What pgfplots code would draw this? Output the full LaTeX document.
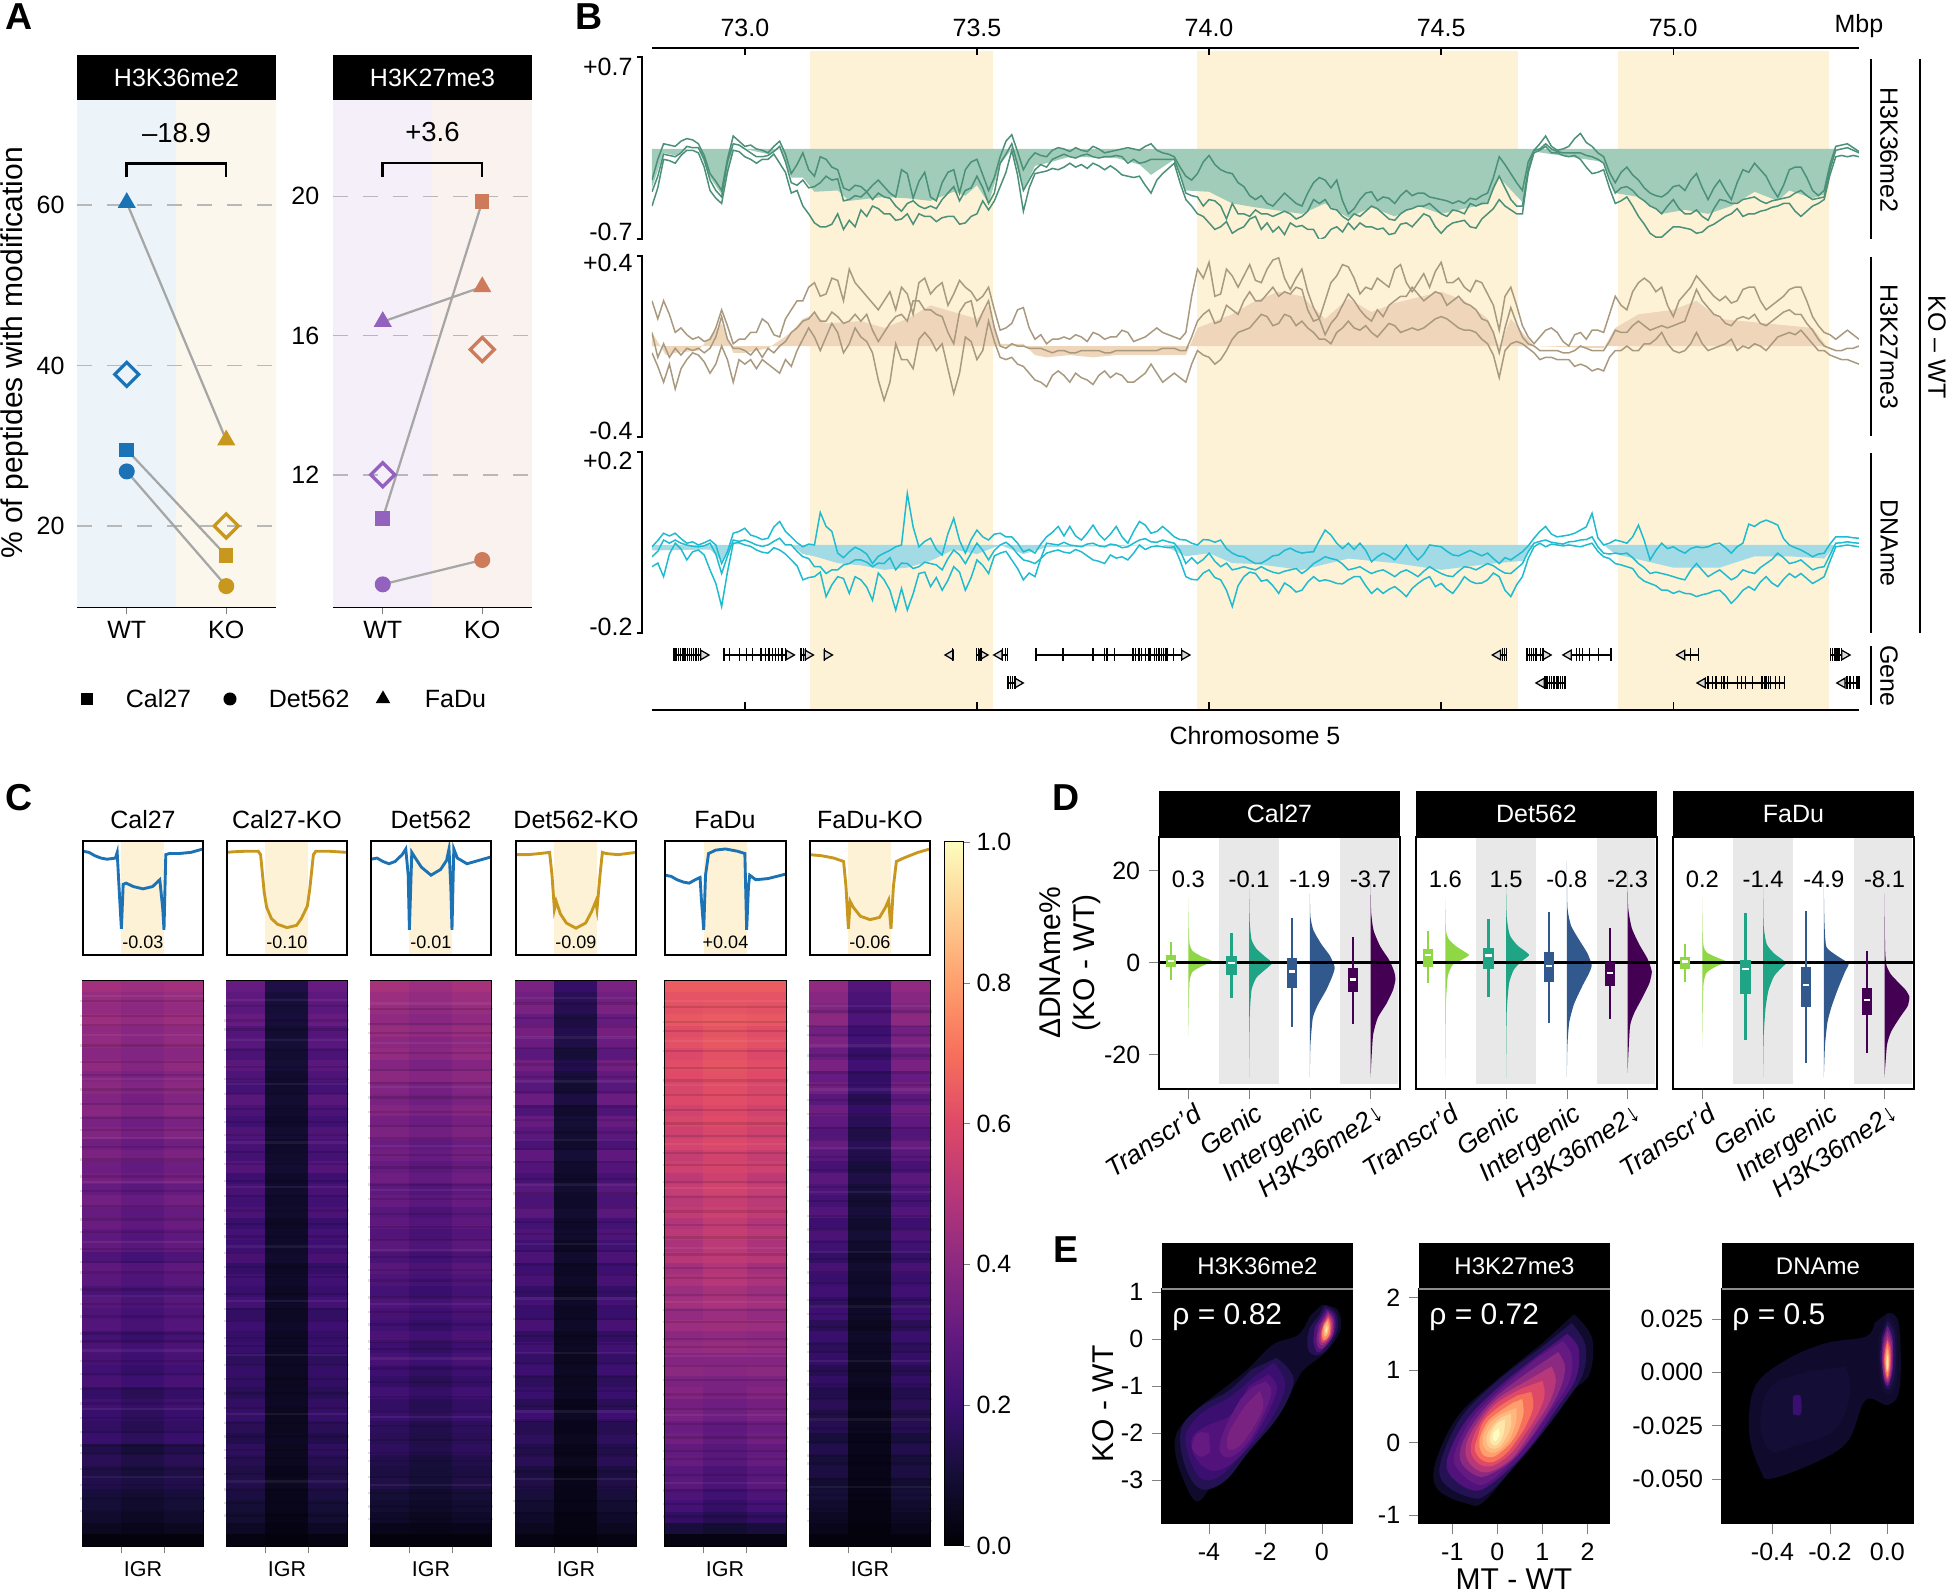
\documentclass[border=0pt]{standalone}
\usepackage{fontspec}
\setmainfont{Liberation Sans}
\usepackage{pgfplots}
\usepackage{pgfplotstable}
\pgfplotsset{compat=1.18}

% magma steps
\definecolor{m07}{HTML}{100B2D}\definecolor{m10}{HTML}{140E36}\definecolor{m15}{HTML}{251255}
\definecolor{m20}{HTML}{3B0F70}\definecolor{m25}{HTML}{51127C}\definecolor{m30}{HTML}{641A80}
\definecolor{m35}{HTML}{792282}\definecolor{m40}{HTML}{8C2981}\definecolor{m45}{HTML}{A1307E}
\definecolor{m50}{HTML}{B73779}\definecolor{m55}{HTML}{CD4071}\definecolor{m60}{HTML}{DE4968}
\definecolor{m65}{HTML}{F0605D}\definecolor{m70}{HTML}{F7705C}\definecolor{m75}{HTML}{FC8961}
\definecolor{m80}{HTML}{FE9F6D}\definecolor{m85}{HTML}{FEB77E}\definecolor{m90}{HTML}{FECF92}
\definecolor{m95}{HTML}{FDE7A9}\definecolor{m100}{HTML}{FCFDBF}
\definecolor{yel}{HTML}{FDF2D6}
\definecolor{ablue}{HTML}{1B72B5}\definecolor{agold}{HTML}{C8981E}
\definecolor{apurp}{HTML}{9362BE}\definecolor{arust}{HTML}{CE7B5C}
\definecolor{gline}{HTML}{4B9079}\definecolor{gfill}{HTML}{A0CCB9}
\definecolor{tline}{HTML}{A9997F}\definecolor{tfill}{HTML}{EFD6BA}
\definecolor{cline}{HTML}{1FBBCF}\definecolor{cfill}{HTML}{A2DBE6}
\definecolor{v1}{HTML}{8FD744}\definecolor{v2}{HTML}{20A486}\definecolor{v3}{HTML}{31598D}\definecolor{v4}{HTML}{440154}

\pgfplotsset{
  colormap={magma}{HTML=(000004) HTML=(140E36) HTML=(3B0F70) HTML=(641A80) HTML=(8C2981)
    HTML=(B73779) HTML=(DE4968) HTML=(F7705C) HTML=(FE9F6D) HTML=(FECF92) HTML=(FCFDBF)},
  pxbox/.code n args={4}{%
    \pgfmathsetlengthmacro\pxX{#1*0.4pt}\pgfmathsetlengthmacro\pxY{-#4*0.4pt}%
    \pgfmathsetlengthmacro\pxW{(#3-#1)*0.4pt}\pgfmathsetlengthmacro\pxH{(#4-#2)*0.4pt}%
    \edef\pxT{\noexpand\pgfplotsset{at={(\pxX,\pxY)},anchor=south west,scale only axis,width=\pxW,height=\pxH}}\pxT},
  every tick label/.append style={font=\fontsize{10}{12}\selectfont},
}
\pgfdeclareplotmark{cellF}{\pgfpathrectangle{\pgfqpoint{-7.9pt}{-2.45pt}}{\pgfqpoint{15.8pt}{4.9pt}}\pgfusepathqfill}
\pgfdeclareplotmark{cellC}{\pgfpathrectangle{\pgfqpoint{-8.7pt}{-2.45pt}}{\pgfqpoint{17.4pt}{4.9pt}}\pgfusepathqfill}
\pgfdeclareplotmark{streak}{\pgfpathrectangle{\pgfqpoint{-25pt}{-0.45pt}}{\pgfqpoint{50pt}{0.9pt}}\pgfusepathqfill}

% genome tracks
\pgfplotstableread{
x a1 a2 a3 b1 b2 b3 c1 c2 c3
72.8000 -24 -44 -33 20 -3 6 -4 -48 -26
72.8125 -8 -30 -21 12 -9 -5 10 -40 -14
72.8250 4 -8 -4 20 -16 1 26 -70 11
72.8375 3 -9 -5 14 -8 -5 20 -20 4
72.8500 2 -11 -6 6 -19 -1 26 4 11
72.8625 6 -5 -3 8 -10 -4 14 -9 4
72.8750 8 -1 2 5 -6 -1 4 -33 0
72.8875 7 -1 1 3 -3 -2 7 -15 -3
72.9000 4 -3 1 4 -4 -1 0 -11 -4
72.9125 -5 -14 -8 2 -7 -3 5 -22 -2
72.9250 -19 -32 -24 3 -12 -1 11 -55 4
72.9375 -25 -38 -32 8 -8 4 0 -85 -20
72.9500 -32 -42 -37 16 0 13 -41 -136 -63
72.9625 -8 -18 -10 9 -6 3 -15 -60 -25
72.9750 10 -1 4 1 -16 -1 26 4 11
72.9875 6 -2 3 3 -6 -1 30 5 8
73.0000 2 -6 0 3 -8 -2 37 0 11
73.0125 3 -8 -3 6 -6 -4 22 -3 6
73.0250 0 -11 -6 6 -10 -1 18 -11 0
73.0375 -1 -8 -6 12 -6 -5 12 -16 -3
73.0500 -3 -8 -5 10 -8 -1 15 -18 0
73.0625 2 -4 -2 5 -10 -3 40 -6 8
73.0750 6 -11 2 4 -12 0 52 -11 15
73.0875 -4 -18 -10 12 -6 2 30 -20 0
73.1000 -19 -34 -26 16 -9 6 18 -33 0
73.1125 -12 -32 -28 20 -2 8 5 -46 -14
73.1250 -3 -44 -24 20 3 11 -4 -77 -26
73.1375 -16 -50 -30 26 8 12 2 -72 -30
73.1500 -21 -57 -29 28 4 15 0 -70 -48
73.1625 -6 -60 -26 22 -2 11 72 -60 -48
73.1750 -8 -60 -21 23 4 11 41 -114 -63
73.1875 -14 -58 -24 30 10 15 30 -88 -55
73.2000 -16 -50 -23 29 6 13 -18 -70 -55
73.2125 -30 -62 -40 20 -3 10 -28 -74 -44
73.2250 -32 -55 -39 34 1 11 -15 -107 -41
73.2375 -28 -60 -36 28 8 14 -5 -70 -33
73.2500 -29 -47 -37 25 4 11 -11 -77 -33
73.2625 -33 -52 -33 22 2 14 -20 -93 -38
73.2750 -28 -44 -39 19 -3 7 -41 -122 -48
73.2875 -24 -46 -34 16 -15 2 -25 -62 -40
73.3000 -29 -50 -37 20 -24 6 -18 -77 -41
73.3125 -34 -50 -38 24 -16 10 -12 -100 -28
73.3250 -37 -55 -44 16 1 13 -4 -144 -55
73.3375 -16 -54 -48 26 -6 14 0 -96 -40
73.3500 -19 -50 -42 23 -6 11 114 -144 -41
73.3625 -38 -58 -40 14 -10 20 40 -108 -52
73.3750 -25 -50 -44 28 3 20 -4 -63 -48
73.3875 -18 -52 -46 30 6 16 8 -60 -38
73.4000 -37 -52 -44 23 3 16 15 -92 -41
73.4125 -40 -56 -46 26 -2 14 -10 -72 -44
73.4250 -26 -53 -39 28 1 13 -22 -100 -55
73.4375 -18 -52 -34 18 -10 6 25 -78 -30
73.4500 -16 -52 -29 23 -21 1 59 -48 -11
73.4625 -34 -58 -40 29 -12 15 10 -60 -22
73.4750 -16 -57 -32 26 4 19 -18 -100 -41
73.4875 -10 -52 -30 24 2 20 12 -72 -18
73.5000 -8 -50 -21 20 -6 9 33 -33 4
73.5125 -20 -40 -30 22 -2 15 18 -45 -12
73.5250 -32 -47 -42 26 11 20 11 -63 -33
73.5375 -22 -40 -34 16 2 8 24 -24 -12
73.5500 -6 -29 -11 7 -5 0 26 -18 0
73.5625 6 -18 -4 8 -6 -1 18 -14 6
73.5750 11 -1 4 10 -5 1 18 -33 -4
73.5875 -2 -20 -12 16 -8 0 4 -52 -20
73.6000 -16 -48 -32 17 -9 0 -15 -77 -33
73.6125 -8 -30 -24 8 -12 -1 -10 -62 -36
73.6250 -3 -19 -16 3 -15 -1 -18 -70 -41
73.6375 -5 -18 -12 5 -16 -1 2 -30 -30
73.6500 -6 -17 -14 1 -18 -2 18 -18 4
73.6625 -1 -15 -8 3 -13 -3 28 -14 2
73.6750 1 -16 -6 3 -11 -2 41 -11 0
73.6875 0 -14 -4 4 -13 -2 20 -16 6
73.7000 -2 -11 -6 3 -16 -3 41 -18 0
73.7125 1 -14 -7 5 -12 -3 20 -10 -2
73.7250 -1 -12 -5 4 -14 -2 11 -15 -4
73.7375 -2 -15 -4 2 -15 -2 26 -24 2
73.7500 2 -11 -6 6 -17 -2 44 -33 4
73.7625 0 -13 -7 5 -13 -2 24 -36 -2
73.7750 -3 -16 -6 3 -11 -3 11 -41 -4
73.7875 -2 -13 -6 4 -14 -3 24 -22 2
73.8000 -1 -16 -5 4 -12 -2 41 -29 0
73.8125 0 -20 -6 7 -13 -2 18 -26 -6
73.8250 1 -21 -11 6 -16 -2 4 -33 -4
73.8375 0 -22 -8 2 -16 -2 30 -18 4
73.8500 -1 -21 -11 3 -14 -2 52 0 11
73.8625 2 -28 -10 4 -12 -2 44 -10 14
73.8750 4 -34 -8 6 -8 -2 26 -4 7
73.8875 -1 -24 -8 8 -12 -2 30 -2 6
73.9000 -3 -19 -8 6 -16 -1 41 -4 11
73.9125 -4 -15 -8 5 -14 -1 30 -6 7
73.9250 -6 -11 -8 4 -12 -1 18 -4 4
73.9375 -14 -26 -20 3 -14 -2 12 -34 -12
73.9500 -21 -39 -34 6 -16 -2 11 -70 -41
73.9625 -24 -44 -36 22 -8 4 4 -76 -28
73.9750 -19 -50 -37 34 -2 11 0 -77 -41
73.9875 -10 -52 -44 30 -4 14 12 -62 -32
74.0000 -5 -57 -39 37 -5 16 11 -55 -18
74.0125 -12 -62 -40 22 -8 10 6 -72 -36
74.0250 -16 -60 -44 23 -6 11 11 -77 -48
74.0375 -18 -56 -54 34 -2 18 -8 -100 -40
74.0500 -19 -65 -42 31 3 16 -18 -136 -55
74.0625 -26 -62 -50 26 6 14 -24 -90 -52
74.0750 -29 -60 -50 31 7 20 -26 -70 -48
74.0875 -36 -54 -52 36 8 24 -34 -60 -52
74.1000 -39 -52 -47 29 11 20 -41 -63 -55
74.1125 -36 -62 -50 28 14 20 -40 -80 -48
74.1250 -42 -57 -50 34 13 23 -33 -77 -55
74.1375 -44 -64 -52 38 9 26 -24 -90 -60
74.1500 -39 -60 -50 39 10 22 -22 -107 -63
74.1625 -34 -66 -48 30 14 24 -12 -84 -58
74.1750 -38 -57 -50 25 13 23 -7 -92 -55
74.1875 -42 -60 -54 30 9 26 -14 -104 -52
74.2000 -44 -59 -52 34 11 25 -18 -100 -63
74.2125 -34 -62 -48 24 8 16 -16 -82 -54
74.2250 -26 -62 -39 17 6 11 -15 -70 -41
74.2375 -22 -70 -42 12 3 12 10 -80 -34
74.2500 -24 -68 -39 20 3 5 33 -77 -26
74.2625 -30 -62 -46 28 1 10 22 -80 -30
74.2750 -24 -60 -47 31 6 13 4 -85 -33
74.2875 -40 -64 -52 36 8 18 -8 -86 -42
74.3000 -50 -57 -55 35 11 23 4 -77 -55
74.3125 -46 -62 -50 30 8 20 -10 -70 -52
74.3250 -39 -57 -52 23 7 16 4 -70 -48
74.3375 -34 -60 -48 26 9 13 -12 -90 -56
74.3500 -33 -60 -44 25 6 11 -37 -107 -63
74.3625 -40 -62 -46 30 4 16 -26 -96 -58
74.3750 -37 -61 -50 28 7 13 -18 -107 -55
74.3875 -38 -66 -54 26 10 18 -24 -98 -62
74.4000 -42 -65 -55 34 9 20 -33 -92 -70
74.4125 -36 -58 -50 36 6 22 -18 -102 -60
74.4250 -32 -57 -47 28 7 22 0 -114 -55
74.4375 -36 -60 -46 24 8 26 -20 -96 -62
74.4500 -34 -55 -44 28 7 23 -33 -85 -70
74.4625 -34 -50 -44 32 8 20 -20 -76 -58
74.4750 -37 -52 -42 26 10 22 0 -70 -48
74.4875 -38 -60 -46 33 12 24 -2 -92 -56
74.5000 -39 -65 -50 37 13 23 -4 -85 -63
74.5125 -40 -60 -52 28 12 18 -14 -98 -68
74.5250 -42 -57 -47 28 10 20 -22 -107 -70
74.5375 -40 -56 -48 30 8 22 -24 -90 -58
74.5500 -42 -55 -50 26 7 19 -18 -70 -48
74.5625 -38 -60 -42 24 7 18 -12 -80 -50
74.5750 -39 -61 -44 29 6 16 -18 -85 -55
74.5875 -36 -54 -42 28 3 12 -24 -84 -48
74.6000 -34 -50 -42 23 1 11 -18 -77 -41
74.6125 -22 -46 -30 18 -4 6 -30 -62 -46
74.6250 -6 -39 -21 7 -14 -3 -41 -70 -55
74.6375 -12 -44 -30 22 -2 8 -28 -100 -62
74.6500 -19 -47 -39 26 1 17 -33 -114 -63
74.6625 -26 -50 -44 18 2 10 -24 -88 -52
74.6750 -32 -50 -44 9 1 4 -15 -70 -41
74.6875 -10 -18 -16 4 -1 1 -2 -30 -15
74.7000 -1 -3 -1 1 -3 0 15 -4 4
74.7125 4 -1 0 4 -6 -2 30 4 8
74.7250 10 2 4 7 -5 -2 41 -4 11
74.7375 2 -3 0 8 -5 -2 24 2 6
74.7500 -1 -3 -2 6 -6 -2 18 0 4
74.7625 0 -5 -3 2 -6 -3 20 -2 2
74.7750 2 -6 -3 0 -6 -3 22 0 7
74.7875 8 -5 -3 5 -9 -2 26 -2 8
74.8000 12 -8 -3 6 -8 0 33 -4 11
74.8125 5 -14 -5 3 -9 -1 40 0 12
74.8250 2 -19 -6 7 -11 -2 70 4 18
74.8375 -3 -18 -8 7 -10 -2 16 -14 -4
74.8500 -6 -16 -11 6 -11 -2 0 -26 -18
74.8625 -18 -30 -24 14 -5 2 4 -30 -20
74.8750 -26 -42 -34 22 -2 7 11 -41 -18
74.8875 -18 -40 -30 18 -2 6 8 -44 -20
74.9000 -14 -37 -29 16 0 6 4 -48 -18
74.9125 -20 -44 -32 24 -2 9 18 -52 -28
74.9250 -24 -52 -37 28 -2 11 44 -70 -41
74.9375 -30 -58 -40 30 1 9 10 -80 -50
74.9500 -34 -65 -44 28 1 7 -33 -85 -63
74.9625 -36 -68 -46 24 3 8 -12 -90 -60
74.9750 -37 -68 -50 26 6 9 4 -100 -63
74.9875 -34 -64 -44 18 1 8 -8 -100 -66
75.0000 -29 -60 -39 13 -2 9 -4 -107 -70
75.0125 -28 -60 -46 20 -3 10 -12 -102 -74
75.0250 -32 -61 -50 23 -2 11 -18 -107 -77
75.0375 -24 -62 -50 26 1 18 -8 -108 -56
75.0500 -19 -65 -47 31 6 25 -4 -114 -41
75.0625 -30 -64 -52 28 1 20 -6 -110 -56
75.0750 -39 -60 -55 25 -2 17 -4 -107 -70
75.0875 -30 -58 -46 22 -1 14 2 -102 -62
75.1000 -24 -55 -39 20 0 13 4 -100 -55
75.1125 -32 -52 -40 22 1 10 -6 -112 -66
75.1250 -39 -50 -42 19 3 9 -18 -129 -77
75.1375 -26 -46 -42 20 -2 12 -4 -116 -70
75.1500 -16 -52 -39 25 0 13 4 -100 -55
75.1625 -18 -50 -38 26 -1 12 46 -92 -60
75.1750 -11 -50 -37 26 1 14 41 -100 -63
75.1875 -16 -48 -40 20 0 10 50 -82 -50
75.2000 -21 -47 -42 16 -2 9 55 -70 -41
75.2125 -30 -45 -40 18 1 11 50 -84 -32
75.2250 -37 -44 -39 20 4 13 44 -92 -18
75.2375 -28 -42 -38 22 5 15 14 -76 -28
75.2500 -16 -42 -37 25 6 16 0 -63 -41
75.2625 -14 -48 -34 26 5 14 -6 -72 -38
75.2750 -14 -52 -32 26 7 14 -11 -63 -33
75.2875 -22 -48 -36 20 4 10 -18 -74 -44
75.3000 -32 -44 -39 13 1 7 -26 -85 -55
75.3125 -36 -42 -38 9 -2 3 -20 -78 -50
75.3250 -32 -39 -37 6 -2 0 -18 -70 -48
75.3375 -12 -20 -16 5 -4 -1 2 -36 -22
75.3500 2 -6 -1 3 -5 -2 18 -4 4
75.3625 3 -5 0 5 -6 -2 18 -2 5
75.3750 4 -6 1 7 -6 -1 18 0 7
75.3875 1 -5 -1 5 -7 -1 16 -2 5
75.4000 -2 -6 -3 3 -8 0 15 -4 4
}\tabB

% heat maps: flank and centre per sample, top row first
\pgfplotstableread{
aF aC bF bC cF cC dF dC eF eC fF fC
49 47 33 14 50 47 38 20 70 70 44 28
46 44 31 12 47 45 36 17 68 68 42 26
45 43 30 11 46 44 38 16 67 68 40 25
47 45 33 12 44 42 33 13 69 70 43 27
44 42 28 10 46 44 37 15 66 68 36 22
45 42 29 11 43 41 34 14 67 69 39 24
42 40 26 10 45 42 30 11 64 67 34 20
44 41 30 11 41 38 36 15 66 68 38 23
41 38 27 9 43 41 32 12 65 67 33 19
43 40 24 9 40 37 29 10 63 66 36 21
40 37 29 10 38 35 34 13 64 66 30 16
42 39 26 9 41 38 27 9 61 64 35 20
38 35 23 8 37 34 33 11 63 65 31 17
40 37 27 10 39 36 30 10 60 63 28 14
36 33 25 8 34 31 26 9 62 64 33 17
39 36 24 9 36 33 31 11 58 61 29 15
35 32 28 10 33 30 28 9 60 62 25 12
37 34 22 8 35 32 25 8 56 60 30 14
33 30 25 9 31 28 29 10 58 61 27 12
36 33 23 8 33 30 26 8 55 58 24 10
33 30 26 9 29 26 30 10 57 60 28 12
34 31 21 7 31 28 24 8 53 57 22 9
31 28 24 8 28 25 27 9 55 58 26 11
32 29 22 8 30 27 23 7 51 55 23 9
27 24 25 9 26 23 26 9 54 56 20 8
31 28 20 7 29 26 22 7 49 53 25 10
30 27 23 8 27 24 25 8 51 54 21 8
26 24 21 7 24 21 20 6 47 50 23 9
29 26 24 8 27 24 24 8 49 51 19 7
27 24 19 7 25 22 21 7 45 47 22 8
28 25 22 8 23 20 25 8 47 48 17 6
24 21 20 7 26 23 19 6 43 44 21 8
26 23 21 7 22 19 23 7 45 46 18 7
25 22 18 7 25 22 20 6 41 41 20 7
23 20 20 7 22 19 22 7 43 42 16 6
25 22 19 6 20 17 18 6 39 38 19 7
20 17 17 7 23 20 21 7 41 38 15 5
23 20 19 7 19 16 17 5 37 35 17 6
21 18 20 6 21 18 22 7 38 35 14 5
19 16 17 6 18 15 16 5 34 31 16 6
21 18 15 7 17 14 18 6 36 32 12 4
15 12 18 6 18 15 15 5 32 29 15 5
17 14 16 6 15 12 17 6 33 29 12 4
14 12 14 5 13 11 13 4 29 26 13 4
15 13 15 6 14 11 14 5 30 26 10 4
12 10 13 5 11 9 12 4 27 23 11 4
11 9 11 5 10 8 10 4 24 20 9 3
9 7 10 4 8 6 8 3 19 16 7 3
6 5 7 3 5 4 6 3 12 10 5 2
2 2 3 2 2 2 3 2 3 3 2 2
}\tabH

\newcommand{\stripbox}[6]{\fill[black] (#1,#2) rectangle (#3,#4);
  \node[white,font=\fontsize{#6}{12}\selectfont] at ({(#1+#3)/2},{(#2+#4)/2}) {#5};}

\newcommand{\prof}[5]{%
\begin{axis}[pxbox={#1}{841}{#2}{955},xmin=0,xmax=1,ymin=0,ymax=1,xtick=\empty,ytick=\empty,
  axis on top,axis line style={line width=.8pt}]
\addplot[fill=yel,draw=none] coordinates {(0.32,0)(0.675,0)(0.675,1)(0.32,1)};
\addplot[#3,line width=1.15pt] coordinates {#5};
\node[font=\fontsize{7.2}{8}\selectfont] at (axis cs:0.5,0.11) {#4};
\end{axis}}

\newcommand{\heat}[5]{%
\begin{axis}[pxbox={#1}{981}{#2}{1546},xmin=0,xmax=1,ymin=-0.5,ymax=49.5,y dir=reverse,
  xtick={0.32,0.675},xticklabels={},ytick=\empty,xtick pos=bottom,tick align=outside,
  major tick length=3pt,axis on top,axis line style={line width=.45pt},
  colormap name=magma,point meta min=0,point meta max=108]
\addplot[scatter,only marks,mark=cellF,scatter src=explicit] table[x expr=0.16,y expr=\coordindex,meta=#3]{\tabH};
\addplot[scatter,only marks,mark=cellF,scatter src=explicit] table[x expr=0.8375,y expr=\coordindex,meta=#3]{\tabH};
\addplot[scatter,only marks,mark=cellC,scatter src=explicit] table[x expr=0.4975,y expr=\coordindex,meta=#4]{\tabH};
\addplot[only marks,mark=streak,black,mark options={draw=none,fill=black,opacity=.12},y filter/.expression={y+#5}] coordinates {(.5,1.3)(.5,2.6)(.5,3.4)(.5,5.2)(.5,6.7)(.5,7.8)(.5,9.1)(.5,10.4)(.5,11.6)(.5,12.7)(.5,14.2)(.5,15.3)(.5,16.8)(.5,18.1)(.5,19.4)(.5,20.6)(.5,21.7)(.5,23.2)(.5,24.4)(.5,25.3)(.5,26.8)(.5,28.1)(.5,29.2)(.5,30.7)(.5,31.4)(.5,33.1)(.5,34.3)(.5,35.6)(.5,36.9)(.5,38.2)(.5,39.4)(.5,40.6)(.5,41.3)(.5,42.7)(.5,44.1)(.5,45.3)(.5,46.4)};
\addplot[only marks,mark=streak,white,mark options={draw=none,fill=white,opacity=.06},y filter/.expression={y+#5}] coordinates {(.5,0.8)(.5,4.3)(.5,8.2)(.5,13.4)(.5,17.3)(.5,22.6)(.5,27.4)(.5,32.2)(.5,37.4)(.5,43.4)};
\addplot[black,opacity=.25,line width=.5pt] coordinates {(0.32,-0.5)(0.32,49.5)};
\addplot[black,opacity=.25,line width=.5pt] coordinates {(0.675,-0.5)(0.675,49.5)};
\end{axis}}

\newcommand{\viol}[3]{\addplot[fill=#2,draw=none,smooth,tension=0.35,x filter/.expression={x+#1}] coordinates {#3};}
\newcommand{\bxp}[7]{%
  \addplot[#2,line width=.9pt,x filter/.expression={x+#1-0.29}] coordinates {(0,#3)(0,#4)};
  \addplot[#2,line width=4.2pt,x filter/.expression={x+#1-0.29}] coordinates {(0,#5)(0,#6)};
  \addplot[white,line width=1pt,x filter/.expression={x+#1-0.29}] coordinates {(-0.05,#7)(0.05,#7)};}
\newcommand{\bands}{%
  \addplot[fill=black!9,draw=none] coordinates {(0.5,-26.4)(1.5,-26.4)(1.5,27.3)(0.5,27.3)};
  \addplot[fill=black!9,draw=none] coordinates {(2.5,-26.4)(3.46,-26.4)(3.46,27.3)(2.5,27.3)};}
\newcommand{\zeroline}{\addplot[black,line width=1.1pt] coordinates {(-0.484,0)(3.485,0)};}
\newcommand{\dnums}[4]{%
  \node[font=\fontsize{9.5}{11}\selectfont] at (axis cs:0,18.1) {#1};
  \node[font=\fontsize{9.5}{11}\selectfont] at (axis cs:1,18.1) {#2};
  \node[font=\fontsize{9.5}{11}\selectfont] at (axis cs:2,18.1) {#3};
  \node[font=\fontsize{9.5}{11}\selectfont] at (axis cs:3,18.1) {#4};}
\pgfplotsset{
  dfacet/.style={xmin=-0.484,xmax=3.485,ymin=-27.5,ymax=27.3,axis on top,
    axis line style={line width=1pt},xtick={0,1,2,3},
    xticklabels={Transcr'd,Genic,Intergenic,H3K36me2↓},xtick pos=bottom,tick align=outside,
    major tick length=4pt,
    x tick label style={rotate=34,anchor=north east,inner sep=0pt,yshift=-2pt,xshift=1pt,font=\itshape\fontsize{10.5}{12}\selectfont}},
  efacet/.style={axis on top,axis background/.style={fill=black},tick align=outside,
    xtick pos=bottom,ytick pos=left,major tick length=4pt,axis line style={black,line width=.4pt}},
  stem/.style={only marks,mark=|,mark size=2.6pt,mark options={line width=.55pt},black},
  arrR/.style={only marks,mark=triangle*,mark size=2.2pt,mark options={rotate=-90,fill=black!15,draw=black,line width=.5pt}},
  arrL/.style={only marks,mark=triangle*,mark size=2.2pt,mark options={rotate=90,fill=black!15,draw=black,line width=.5pt}},
}
\newcommand{\lay}[2]{\addplot[fill=#1,draw=none,smooth,tension=0.6] coordinates {#2};}

\begin{document}
\begin{tikzpicture}
\useasboundingbox (0,0) rectangle (780pt,-636pt);

% ---------- A
\begin{axis}[pxbox={77}{100}{276}{607},xmin=-0.5,xmax=1.5,ymin=9.9,ymax=73.1,
  axis x line=bottom,axis y line=left,axis line style={-},x axis line style={line width=1pt},
  y axis line style={draw=none},xtick={0,1},xticklabels={WT,KO},ytick={20,40,60},yticklabels={20,40,60},
  ytick style={draw=none},tick align=outside,major tick length=3pt,
  yticklabel style={xshift=1.5pt},xticklabel style={yshift=1pt}]
\addplot[fill=ablue!8,draw=none] coordinates {(-0.5,9.9)(0.5,9.9)(0.5,73.1)(-0.5,73.1)};
\addplot[fill=agold!8,draw=none] coordinates {(0.5,9.9)(1.5,9.9)(1.5,73.1)(0.5,73.1)};
\addplot[black!28,line width=.7pt,dash pattern=on 6pt off 6pt] coordinates {(-0.5,60)(1.5,60)};
\addplot[black!28,line width=.7pt,dash pattern=on 6pt off 6pt] coordinates {(-0.5,40)(1.5,40)};
\addplot[black!28,line width=.7pt,dash pattern=on 6pt off 6pt] coordinates {(-0.5,20)(1.5,20)};
\addplot[black!35,line width=.9pt] coordinates {(0,60.3)(1,30.7)};
\addplot[black!35,line width=.9pt] coordinates {(0,29.5)(1,16.3)};
\addplot[black!35,line width=.9pt] coordinates {(0,26.8)(1,12.5)};
\addplot[only marks,mark=triangle*,mark size=3.8pt,ablue] coordinates {(0,60.3)};
\addplot[only marks,mark=square*,mark size=2.7pt,ablue] coordinates {(0,29.5)};
\addplot[only marks,mark=*,mark size=3pt,ablue] coordinates {(0,26.8)};
\addplot[only marks,mark=square,mark size=3.4pt,mark options={rotate=45,line width=1.3pt,draw=ablue,fill=none}] coordinates {(0,38.9)};
\addplot[only marks,mark=triangle*,mark size=3.8pt,agold] coordinates {(1,30.7)};
\addplot[only marks,mark=square*,mark size=2.7pt,agold] coordinates {(1,16.3)};
\addplot[only marks,mark=*,mark size=3pt,agold] coordinates {(1,12.5)};
\addplot[only marks,mark=square,mark size=3.4pt,mark options={rotate=45,line width=1.3pt,draw=agold,fill=none}] coordinates {(1,20)};
\addplot[black,line width=1pt] coordinates {(0,63.5)(0,65.2)(1,65.2)(1,63.5)};
\node[font=\fontsize{11}{13}\selectfont] at (axis cs:0.5,69) {–18.9};
\end{axis}
\begin{axis}[pxbox={333}{100}{532}{607},xmin=-0.5,xmax=1.5,ymin=8.2,ymax=22.77,
  axis x line=bottom,axis y line=left,axis line style={-},x axis line style={line width=1pt},
  y axis line style={draw=none},xtick={0,1},xticklabels={WT,KO},ytick={12,16,20},yticklabels={12,16,20},
  ytick style={draw=none},tick align=outside,major tick length=3pt,
  yticklabel style={xshift=1pt},xticklabel style={yshift=1pt}]
\addplot[fill=apurp!10,draw=none] coordinates {(-0.5,8.2)(0.5,8.2)(0.5,22.77)(-0.5,22.77)};
\addplot[fill=arust!10,draw=none] coordinates {(0.5,8.2)(1.5,8.2)(1.5,22.77)(0.5,22.77)};
\addplot[black!28,line width=.7pt,dash pattern=on 6pt off 6pt] coordinates {(-0.5,20)(1.5,20)};
\addplot[black!28,line width=.7pt,dash pattern=on 6pt off 6pt] coordinates {(-0.5,16)(1.5,16)};
\addplot[black!28,line width=.7pt,dash pattern=on 6pt off 6pt] coordinates {(-0.5,12)(1.5,12)};
\addplot[black!35,line width=.9pt] coordinates {(0,16.4)(1,17.4)};
\addplot[black!35,line width=.9pt] coordinates {(0,10.75)(1,19.85)};
\addplot[black!35,line width=.9pt] coordinates {(0,8.85)(1,9.55)};
\addplot[only marks,mark=triangle*,mark size=3.8pt,apurp] coordinates {(0,16.4)};
\addplot[only marks,mark=square*,mark size=2.7pt,apurp] coordinates {(0,10.75)};
\addplot[only marks,mark=*,mark size=3pt,apurp] coordinates {(0,8.85)};
\addplot[only marks,mark=square,mark size=3.4pt,mark options={rotate=45,line width=1.3pt,draw=apurp,fill=none}] coordinates {(0,12)};
\addplot[only marks,mark=triangle*,mark size=3.8pt,arust] coordinates {(1,17.4)};
\addplot[only marks,mark=square*,mark size=2.7pt,arust] coordinates {(1,19.85)};
\addplot[only marks,mark=*,mark size=3pt,arust] coordinates {(1,9.55)};
\addplot[only marks,mark=square,mark size=3.4pt,mark options={rotate=45,line width=1.3pt,draw=arust,fill=none}] coordinates {(1,15.6)};
\addplot[black,line width=1pt] coordinates {(0,20.56)(0,20.96)(1,20.96)(1,20.56)};
\node[font=\fontsize{11}{13}\selectfont] at (axis cs:0.5,21.85) {+3.6};
\end{axis}
% A legend
\begin{axis}[pxbox={60}{680}{500}{720},xmin=60,xmax=500,ymin=680,ymax=720,y dir=reverse,hide axis,clip=false]
\addplot[only marks,mark=square*,mark size=2.2pt,black] coordinates {(87,699)};
\addplot[only marks,mark=*,mark size=2.4pt,black] coordinates {(230,699)};
\addplot[only marks,mark=triangle*,mark size=3pt,black] coordinates {(383,699)};
\node[anchor=west] at (axis cs:117,699) {Cal27};
\node[anchor=west] at (axis cs:260,699) {Det562};
\node[anchor=west] at (axis cs:416,699) {FaDu};
\end{axis}

% ---------- B
\begin{axis}[pxbox={652}{48}{1859}{710},xmin=72.8,xmax=75.4,ymin=0,ymax=1,
  axis x line=bottom,axis y line=none,axis line style={-,line width=.8pt},axis on top,
  xtick={73,73.5,74,74.5,75},xticklabels={},tick align=inside,major tick length=3pt,
  tick style={black,line width=.6pt}]
\addplot[fill=yel,draw=none] coordinates {(73.14,0)(73.535,0)(73.535,0.995)(73.14,0.995)};
\addplot[fill=yel,draw=none] coordinates {(73.975,0)(74.665,0)(74.665,0.995)(73.975,0.995)};
\addplot[fill=yel,draw=none] coordinates {(74.88,0)(75.335,0)(75.335,0.995)(74.88,0.995)};
\end{axis}
\begin{axis}[pxbox={652}{48}{1859}{710},xmin=72.8,xmax=75.4,ymin=0,ymax=1,
  axis x line=top,axis y line=none,axis line style={-,line width=.8pt},
  xtick={73,73.5,74,74.5,75},xticklabels={73.0,73.5,74.0,74.5,75.0},tick align=inside,major tick length=3pt,
  tick style={black,line width=.6pt},xticklabel style={yshift=1pt}]
\end{axis}
\begin{axis}[pxbox={652}{57}{1859}{239},xmin=72.8,xmax=75.4,ymin=-69.4,ymax=70.9,hide axis]
\addplot[fill=gfill,draw=none] coordinates {(72.8,0)(72.8,-30)(72.825,-3)(72.85,-5)(72.875,0)(72.9,0)(72.925,-22)(72.95,-35)(72.975,0)(73,0)(73.05,-4)(73.075,0)(73.1,-22)(73.125,-22)(73.15,-33)(73.2,-32)(73.225,-40)(73.3,-37)(73.35,-38)(73.4,-40)(73.45,-33)(73.475,-36)(73.5,-28)(73.525,-42)(73.55,-12)(73.575,0)(73.6,-32)(73.625,-13)(73.65,-11)(73.7,-6)(73.8,-7)(73.85,-12)(73.875,-20)(73.925,-8)(73.95,-32)(74,-33)(74.05,-42)(74.1,-45)(74.2,-50)(74.25,-42)(74.3,-53)(74.35,-45)(74.4,-52)(74.45,-44)(74.5,-50)(74.6,-42)(74.625,-22)(74.675,-41)(74.7,-2)(74.85,-10)(74.875,-34)(74.925,-37)(74.975,-50)(75.025,-47)(75.075,-50)(75.125,-44)(75.175,-33)(75.225,-40)(75.25,-32)(75.3,-38)(75.325,-35)(75.35,0)};
\addplot[gline,line width=.6pt] table[x=x,y=a1]{\tabB};
\addplot[gline,line width=.6pt] table[x=x,y=a2]{\tabB};
\addplot[gline,line width=.6pt] table[x=x,y=a3]{\tabB};
\end{axis}
\begin{axis}[pxbox={652}{256}{1859}{437},xmin=72.8,xmax=75.4,ymin=-40.2,ymax=39.8,hide axis]
\addplot[fill=tfill,draw=none] coordinates {(72.8,0)(72.8,6)(72.83,-4)(72.85,-3)(72.9,-2)(72.95,10)(72.975,-3)(73,-3)(73.05,-1)(73.1,6)(73.125,12)(73.15,14)(73.175,10)(73.25,11)(73.3,8)(73.35,12)(73.4,18)(73.45,15)(73.5,12)(73.525,18)(73.55,1)(73.6,1)(73.625,-4)(73.65,-5)(73.7,-4)(73.75,-5)(73.8,-4)(73.85,-4)(73.95,-4)(73.975,8)(74,10)(74.05,14)(74.1,20)(74.15,24)(74.2,22)(74.25,12)(74.3,21)(74.35,15)(74.4,19)(74.5,24)(74.55,20)(74.6,12)(74.625,0)(74.65,12)(74.7,0)(74.85,-1)(74.875,8)(74.925,14)(75,16)(75.05,20)(75.1,12)(75.2,10)(75.3,8)(75.33,0)};
\addplot[tline,line width=.6pt] table[x=x,y=b1]{\tabB};
\addplot[tline,line width=.6pt] table[x=x,y=b2]{\tabB};
\addplot[tline,line width=.6pt] table[x=x,y=b3]{\tabB};
\end{axis}
\begin{axis}[pxbox={652}{452}{1859}{633},xmin=72.8,xmax=75.4,ymin=-194.5,ymax=205.6,hide axis]
\addplot[fill=cfill,draw=none] coordinates {(72.8,0)(72.8,-12)(72.925,-10)(72.95,-35)(72.975,0)(73.1,0)(73.125,-20)(73.15,-25)(73.2,-40)(73.25,-45)(73.3,-55)(73.35,-50)(73.4,-35)(73.45,-10)(73.5,-20)(73.55,0)(73.6,-20)(73.65,-5)(73.9,0)(73.95,-25)(74,-18)(74.05,-40)(74.1,-42)(74.2,-55)(74.3,-30)(74.4,-40)(74.5,-55)(74.6,-42)(74.675,-35)(74.7,0)(74.85,0)(74.875,-20)(75,-50)(75.1,-50)(75.175,-25)(75.25,-25)(75.325,-30)(75.35,0)};
\addplot[cline,line width=.6pt] table[x=x,y=c1]{\tabB};
\addplot[cline,line width=.6pt] table[x=x,y=c2]{\tabB};
\addplot[cline,line width=.6pt] table[x=x,y=c3]{\tabB};
\end{axis}
% genes: row 1 at 655, row 2 at 683
\begin{axis}[pxbox={652}{640}{1859}{700},xmin=72.8,xmax=75.4,ymin=640,ymax=700,y dir=reverse,hide axis,clip=false]
\addplot[black,line width=.45pt] coordinates {(72.847,655)(72.911,655)};
\addplot[black,line width=.45pt] coordinates {(72.955,655)(73.095,655)};
\addplot[black,line width=.45pt] coordinates {(73.121,655)(73.136,655)};
\addplot[black,line width=.45pt] coordinates {(73.443,655)(73.447,655)};
\addplot[black,line width=.45pt] coordinates {(73.499,655)(73.512,655)};
\addplot[black,line width=.45pt] coordinates {(73.548,655)(73.566,655)};
\addplot[black,line width=.45pt] coordinates {(73.627,655)(73.947,655)};
\addplot[black,line width=.45pt] coordinates {(74.622,655)(74.641,655)};
\addplot[black,line width=.45pt] coordinates {(74.685,655)(74.725,655)};
\addplot[black,line width=.45pt] coordinates {(74.774,655)(74.866,655)};
\addplot[black,line width=.45pt] coordinates {(75.019,655)(75.054,655)};
\addplot[black,line width=.45pt] coordinates {(75.338,655)(75.369,655)};
\addplot[black,line width=.45pt] coordinates {(74.716,683)(74.767,683)};
\addplot[black,line width=.45pt] coordinates {(75.063,683)(75.239,683)};
\addplot[black,line width=.45pt] coordinates {(75.364,683)(75.4,683)};
\addplot[black,line width=.45pt] coordinates {(73.567,683)(73.588,683)};
\addplot[arrR] coordinates {(72.911,655)(73.095,655)(73.136,655)(73.177,655)(73.512,655)(73.947,655)(74.725,655)(75.369,655)(73.588,683)};
\addplot[arrL] coordinates {(73.443,655)(73.548,655)(74.622,655)(74.774,655)(75.019,655)(74.716,683)(75.063,683)(75.364,683)};
\addplot[stem] coordinates {(72.847,655)(72.852,655)(72.857,655)(72.862,655)(72.867,655)(72.871,655)(72.876,655)(72.881,655)(72.885,655)(72.890,655)(72.895,655)(72.900,655)(72.905,655)
(72.955,655)(72.967,655)(72.989,655)(73.004,655)(73.017,655)(73.035,655)(73.044,655)(73.052,655)(73.059,655)(73.066,655)(73.073,655)(73.080,655)(73.088,655)
(73.121,655)(73.126,655)(73.131,655)(73.171,655)(73.447,655)(73.499,655)(73.504,655)(73.509,655)(73.555,655)(73.562,655)(73.566,655)
(73.627,655)(73.685,655)(73.750,655)(73.775,655)(73.780,655)(73.796,655)(73.836,655)(73.842,655)(73.849,655)(73.855,655)(73.863,655)(73.869,655)(73.873,655)(73.882,655)(73.887,655)(73.892,655)(73.897,655)(73.902,655)(73.907,655)(73.911,655)(73.923,655)(73.940,655)
(74.632,655)(74.637,655)(74.641,655)(74.685,655)(74.690,655)(74.695,655)(74.699,655)(74.704,655)(74.714,655)(74.719,655)
(74.791,655)(74.798,655)(74.805,655)(74.820,655)(74.839,655)(74.866,655)(75.037,655)(75.054,655)
(75.338,655)(75.343,655)(75.348,655)(75.353,655)(75.357,655)(75.362,655)};
\addplot[stem] coordinates {(73.567,683)(73.572,683)(73.577,683)(73.582,683)
(74.724,683)(74.728,683)(74.733,683)(74.738,683)(74.743,683)(74.748,683)(74.752,683)(74.757,683)(74.762,683)(74.767,683)
(75.075,683)(75.085,683)(75.092,683)(75.104,683)(75.109,683)(75.117,683)(75.138,683)(75.147,683)(75.155,683)(75.171,683)(75.191,683)(75.196,683)(75.200,683)(75.205,683)(75.210,683)(75.220,683)(75.229,683)(75.239,683)
(75.374,683)(75.381,683)(75.388,683)(75.396,683)(75.400,683)};
\end{axis}

% ---------- C
\prof{83}{203}{ablue}{-0.03}{(0,.91)(.05,.90)(.1,.87)(.15,.85)(.2,.84)(.27,.85)(.285,.90)(.3,.60)(.32,.23)(.335,.62)(.36,.63)(.42,.60)(.5,.58)(.58,.60)(.64,.66)(.665,.40)(.675,.22)(.69,.88)(.72,.89)(.8,.89)(.9,.90)(1,.93)}
\prof{227}{347}{agold}{-0.10}{(0,.90)(.05,.905)(.15,.91)(.26,.91)(.28,.88)(.31,.55)(.33,.42)(.37,.32)(.42,.27)(.5,.24)(.58,.26)(.62,.32)(.67,.43)(.69,.58)(.72,.88)(.74,.91)(.85,.91)(1,.90)}
\prof{371}{491}{ablue}{-0.01}{(0,.84)(.05,.85)(.1,.82)(.15,.80)(.2,.82)(.26,.88)(.29,.93)(.31,.70)(.32,.22)(.34,.90)(.37,.85)(.42,.77)(.5,.70)(.58,.75)(.63,.83)(.65,.93)(.665,.60)(.675,.22)(.69,.93)(.72,.85)(.8,.80)(.9,.83)(1,.86)}
\prof{516}{636}{agold}{-0.09}{(0,.88)(.1,.88)(.2,.89)(.28,.90)(.3,.70)(.32,.40)(.335,.47)(.37,.36)(.42,.28)(.5,.235)(.58,.28)(.63,.38)(.665,.47)(.675,.40)(.70,.70)(.72,.90)(.75,.89)(.85,.88)(1,.90)}
\prof{665}{786}{ablue}{+0.04}{(0,.70)(.05,.69)(.1,.66)(.15,.64)(.2,.63)(.25,.66)(.29,.68)(.3,.50)(.32,.22)(.335,.70)(.36,.89)(.42,.92)(.5,.93)(.6,.91)(.66,.89)(.675,.22)(.69,.60)(.7,.70)(.75,.66)(.85,.67)(1,.71)}
\prof{810}{930}{agold}{-0.06}{(0,.88)(.1,.87)(.2,.85)(.28,.82)(.3,.60)(.32,.23)(.335,.47)(.36,.42)(.42,.34)(.5,.31)(.58,.33)(.63,.42)(.655,.48)(.675,.23)(.695,.60)(.72,.82)(.78,.85)(.9,.90)(1,.93)}
\heat{83}{203}{aF}{aC}{0}
\heat{227}{347}{bF}{bC}{0.4}
\heat{371}{491}{cF}{cC}{0.7}
\heat{516}{636}{dF}{dC}{0.2}
\heat{665}{786}{eF}{eC}{0.5}
\heat{810}{930}{fF}{fC}{0.9}
\begin{axis}[pxbox={945}{842}{964}{1546},xmin=0,xmax=1,ymin=0,ymax=1,xtick=\empty,
  ytick={0,0.2,0.4,0.6,0.8,1},yticklabels={0.0,0.2,0.4,0.6,0.8,1.0},ytick pos=right,yticklabel pos=right,
  tick align=outside,major tick length=2.5pt,axis line style={line width=.4pt},axis on top,
  yticklabel style={xshift=-1pt},colormap name=magma,point meta min=0,point meta max=1]
\addplot[surf,shader=interp,point meta=y,mesh/cols=2] coordinates {(0,0)(1,0)(0,1)(1,1)};
\end{axis}

% ---------- D
\begin{axis}[dfacet,pxbox={1159}{837}{1400}{1089},ytick={-20,0,20},yticklabels={-20,0,20},ytick pos=left]
\bands
\viol{0}{v1}{(0,14)(.005,8)(.02,4)(.07,2.5)(.22,1.3)(.39,.3)(.22,-.8)(.07,-2)(.02,-4)(.006,-10)(0,-16)}
\viol{1}{v2}{(0,16)(.01,9)(.04,5)(.12,3)(.27,1.2)(.38,-.1)(.27,-1.5)(.12,-3.3)(.04,-6)(.01,-12)(0,-25)}
\viol{2}{v3}{(0,15)(.01,10)(.06,7)(.19,4)(.33,1.5)(.41,-1)(.37,-3)(.27,-6)(.14,-9)(.05,-12)(.01,-18)(0,-25)}
\viol{3}{v4}{(0,18)(.01,11)(.05,7)(.16,3.5)(.31,.5)(.39,-2)(.41,-3.7)(.37,-6)(.26,-9)(.12,-12)(.04,-16)(0,-25)}
\zeroline
\bxp{0}{v1}{-3.9}{4.4}{-1}{1.7}{.3}
\bxp{1}{v2}{-7.7}{6.5}{-2.7}{1.4}{-.1}
\bxp{2}{v3}{-14}{9.6}{-5.5}{.9}{-1.9}
\bxp{3}{v4}{-13.4}{5.6}{-6.5}{-1.2}{-3.7}
\dnums{0.3}{-0.1}{-1.9}{-3.7}
\end{axis}
\begin{axis}[dfacet,pxbox={1416}{837}{1657}{1089},ytick=\empty]
\bands
\viol{0}{v1}{(0,14)(.01,7)(.06,5)(.18,3.5)(.31,2.4)(.39,1.6)(.27,.6)(.12,-.5)(.04,-3)(.01,-9)(0,-25)}
\viol{1}{v2}{(0,18)(.01,10)(.06,6)(.18,3.8)(.31,2.5)(.38,1.6)(.27,.4)(.13,-1.5)(.05,-4.5)(.01,-11)(0,-25)}
\viol{2}{v3}{(0,22)(.01,12)(.07,8)(.2,5)(.34,2)(.41,-.6)(.36,-2.5)(.26,-5)(.12,-9)(.04,-13)(.01,-18)(0,-25)}
\viol{3}{v4}{(0,20)(.01,12)(.07,7.5)(.19,4)(.33,.8)(.40,-2)(.36,-4.5)(.25,-7.5)(.11,-11)(.04,-14)(0,-24)}
\zeroline
\bxp{0}{v1}{-4.5}{6.9}{-.9}{2.9}{1.6}
\bxp{1}{v2}{-7.4}{9.4}{-1.4}{3.2}{1.5}
\bxp{2}{v3}{-13.1}{10.9}{-4.3}{2.2}{-.8}
\bxp{3}{v4}{-12.3}{7.4}{-5.2}{.2}{-2.3}
\dnums{1.6}{1.5}{-0.8}{-2.3}
\end{axis}
\begin{axis}[dfacet,pxbox={1673}{837}{1914}{1089},ytick=\empty]
\bands
\viol{0}{v1}{(0,14)(.005,7)(.02,3.5)(.07,2.2)(.22,1.2)(.39,.2)(.22,-.9)(.07,-2.2)(.02,-4.5)(.006,-11)(0,-18)}
\viol{1}{v2}{(0,18)(.01,8)(.06,4)(.18,2)(.3,.8)(.38,-.1)(.3,-1.2)(.18,-3)(.09,-6)(.04,-10)(.01,-16)(0,-25)}
\viol{2}{v3}{(0,17)(.01,9)(.04,3.5)(.18,1.8)(.32,.6)(.41,-.3)(.35,-2)(.24,-5.5)(.13,-9.5)(.06,-13)(.02,-18)(0,-25)}
\viol{3}{v4}{(0,15)(.01,3)(.03,-.5)(.1,-2.5)(.24,-4.5)(.35,-6)(.41,-7.5)(.38,-9.5)(.25,-12)(.11,-15)(.04,-18)(0,-25)}
\zeroline
\bxp{0}{v1}{-4.2}{4}{-1.4}{1.1}{.2}
\bxp{1}{v2}{-16.9}{10.7}{-6.8}{.6}{-1.4}
\bxp{2}{v3}{-21.8}{11.3}{-9.7}{-.9}{-4.9}
\bxp{3}{v4}{-19.6}{2.5}{-11.5}{-5.5}{-8.1}
\dnums{0.2}{-1.4}{-4.9}{-8.1}
\end{axis}

% ---------- E
\begin{axis}[efacet,pxbox={1162}{1289}{1353}{1524},xmin=-5.66,xmax=1.1,ymin=-3.93,ymax=1.065,
  xtick={-4,-2,0},xticklabels={-4,-2,0},ytick={-3,-2,-1,0,1},yticklabels={-3,-2,-1,0,1}]
\lay{m07}{(0,.73)(.56,.62)(.66,.2)(.16,-.26)(-.64,-.65)(-.94,-.94)(-1.64,-1.65)(-2.84,-2.43)(-3.84,-3.07)(-4.34,-3.44)(-4.68,-3.28)(-5.14,-2.57)(-5.14,-2)(-4.44,-1.5)(-3.54,-1.08)(-2.64,-.65)(-1.74,-.12)(-.84,.09)(-.44,.48)}
\lay{m15}{(-1.6,-.4)(-1,-.85)(-1.5,-1.6)(-2.6,-2.4)(-3.4,-3)(-4.2,-3.2)(-4.7,-2.9)(-5,-2.3)(-4.9,-1.8)(-4.2,-1.4)(-3.3,-1.1)(-2.5,-.65)}
\lay{m20}{(-1.7,-.5)(-1.3,-1)(-1.9,-1.8)(-2.9,-2.5)(-3.7,-2.95)(-4.3,-2.95)(-4.7,-2.5)(-4.8,-2)(-4.2,-1.55)(-3.3,-1.25)(-2.4,-.8)}
\lay{m25}{(-1.9,-.75)(-1.6,-1.1)(-2.3,-2)(-3.1,-2.6)(-3.9,-2.8)(-4.5,-2.5)(-4.6,-2.1)(-4.1,-1.85)(-3.2,-1.6)(-2.6,-1)}
\lay{m30}{(-2,-.9)(-1.8,-1.2)(-2.5,-2.1)(-3.2,-2.5)(-3.6,-2.4)(-3.5,-2)(-2.9,-1.3)(-2.4,-1)}
\lay{m30}{(-4,-2)(-4.4,-2)(-4.6,-2.3)(-4.3,-2.5)(-3.95,-2.4)}
\lay{m35}{(-2.2,-1.1)(-2.1,-1.5)(-2.8,-2.2)(-3.3,-2.35)(-3.3,-2)(-2.7,-1.4)}
\lay{m15}{(.1,.72)(.5,.55)(.55,.2)(.2,-.2)(-.2,-.35)(-.5,-.2)(-.45,.2)(-.1,.5)}
\lay{m25}{(.15,.65)(.45,.5)(.45,.15)(.15,-.15)(-.15,-.28)(-.3,-.05)(-.25,.25)}
\lay{m35}{(.2,.6)(.42,.42)(.4,.1)(.12,-.15)(-.1,-.2)(-.2,0)(-.1,.3)}
\lay{m45}{(.22,.55)(.38,.4)(.35,.1)(.12,-.1)(-.05,-.12)(-.12,.05)(-.02,.32)}
\lay{m60}{(.22,.5)(.34,.35)(.3,.08)(.1,-.06)(-.02,-.05)(-.05,.1)(.05,.33)}
\lay{m75}{(.22,.44)(.3,.3)(.26,.08)(.1,-.02)(.02,.02)(0,.15)(.08,.32)}
\lay{m85}{(.2,.38)(.25,.25)(.2,.1)(.1,.05)(.06,.12)(.08,.27)}
\lay{m95}{(.18,.3)(.2,.2)(.14,.12)(.12,.2)}
\end{axis}
\begin{axis}[efacet,pxbox={1419}{1289}{1610}{1524},xmin=-1.74,xmax=2.5,ymin=-1.125,ymax=2.12,
  xtick={-1,0,1,2},xticklabels={-1,0,1,2},ytick={-1,0,1,2},yticklabels={-1,0,1,2}]
\lay{m07}{(1.7,1.77)(2.1,1.45)(2.05,.95)(1.63,.68)(.75,-.01)(-.25,-.79)(-.69,-.84)(-1.32,-.65)(-1.38,-.29)(-.88,.36)(0,.87)(1,1.37)}
\lay{m15}{(1.65,1.65)(1.95,1.35)(1.9,.95)(1.5,.55)(.7,-.1)(-.2,-.7)(-.65,-.75)(-1.2,-.55)(-1.25,-.25)(-.8,.35)(0,.85)(.95,1.3)}
\lay{m25}{(1.55,1.5)(1.8,1.3)(1.75,.9)(1.35,.5)(.6,-.15)(-.2,-.6)(-.6,-.65)(-1.05,-.45)(-1.1,-.2)(-.7,.3)(0,.75)(.9,1.2)}
\lay{m30}{(1.45,1.4)(1.65,1.2)(1.6,.85)(1.2,.45)(.5,-.15)(-.2,-.55)(-.55,-.55)(-.9,-.35)(-.95,-.15)(-.6,.3)(0,.7)(.85,1.15)}
\lay{m40}{(1.35,1.25)(1.5,1.05)(1.4,.75)(1.05,.35)(.4,-.2)(-.2,-.45)(-.5,-.45)(-.8,-.28)(-.8,-.05)(-.5,.3)(0,.65)(.75,1)}
\lay{m50}{(1.2,1.05)(1.3,.85)(1.15,.55)(.85,.25)(.35,-.2)(-.15,-.4)(-.45,-.38)(-.68,-.22)(-.68,0)(-.42,.3)(0,.6)(.65,.85)}
\lay{m60}{(1,.85)(1.05,.65)(.9,.4)(.65,.15)(.3,-.15)(-.1,-.32)(-.4,-.3)(-.58,-.15)(-.55,.05)(-.35,.3)(0,.55)(.55,.75)}
\lay{m70}{(.75,.7)(.8,.5)(.65,.25)(.45,.05)(.2,-.15)(-.1,-.27)(-.35,-.24)(-.5,-.1)(-.45,.05)(-.3,.3)(.05,.5)(.45,.65)}
\lay{m80}{(.55,.6)(.58,.4)(.45,.15)(.3,0)(.1,-.12)(-.1,-.2)(-.3,-.18)(-.4,-.05)(-.37,.1)(-.2,.3)(.1,.45)(.35,.55)}
\lay{m85}{(.42,.48)(.42,.3)(.3,.08)(.15,-.05)(-.05,-.14)(-.22,-.12)(-.32,-.02)(-.3,.12)(-.15,.28)(.1,.4)}
\lay{m90}{(.3,.4)(.3,.22)(.18,.05)(.03,-.07)(-.15,-.08)(-.24,0)(-.22,.12)(-.08,.25)(.1,.35)}
\lay{m95}{(.17,.32)(.15,.15)(.05,0)(-.08,-.04)(-.17,.03)(-.14,.14)(0,.27)}
\lay{m100}{(.03,.2)(.05,.1)(-.04,.02)(-.1,.05)(-.08,.14)}
\end{axis}
\begin{axis}[efacet,pxbox={1722}{1289}{1914}{1524},xmin=-0.576,xmax=0.093,ymin=-0.0711,ymax=0.039,
  xtick={-0.4,-0.2,0},xticklabels={-0.4,-0.2,0.0},ytick={-0.05,-0.025,0,0.025},yticklabels={-0.050,-0.025,0.000,0.025}]
\lay{m07}{(0,.0277)(.04,.023)(.044,-.0067)(.004,-.0153)(-.075,-.013)(-.135,-.0318)(-.234,-.0412)(-.402,-.0498)(-.442,-.0459)(-.481,-.0286)(-.461,-.0067)(-.352,.0058)(-.214,.0136)(-.075,.0167)(-.045,.023)}
\lay{m10}{(-.145,.0027)(-.13,-.0099)(-.184,-.0271)(-.333,-.0349)(-.402,-.0373)(-.438,-.0286)(-.436,-.0161)(-.392,-.0052)(-.273,.0003)}
\lay{m20}{(-.329,-.0114)(-.303,-.0111)(-.301,-.0196)(-.329,-.0196)}
\lay{m10}{(0,.0265)(.032,.02)(.034,-.002)(.02,-.0085)(0,-.0105)(-.02,-.006)(-.032,.006)(-.028,.017)}
\lay{m15}{(0,.024)(.025,.018)(.028,.002)(.015,-.006)(0,-.008)(-.016,-.004)(-.025,.007)(-.02,.017)}
\lay{m30}{(0,.022)(.018,.016)(.02,.003)(.01,-.004)(0,-.0065)(-.012,-.003)(-.02,.007)(-.015,.016)}
\lay{m40}{(0,.0195)(.016,.014)(.017,.004)(.01,-.003)(0,-.005)(-.012,-.002)(-.017,.006)(-.012,.014)}
\lay{m50}{(0,.017)(.013,.012)(.014,.004)(.008,-.002)(0,-.004)(-.009,-.001)(-.014,.006)(-.01,.012)}
\lay{m65}{(0,.015)(.01,.011)(.011,.004)(.006,-.001)(0,-.003)(-.007,0)(-.011,.006)(-.007,.011)}
\lay{m75}{(0,.0135)(.007,.009)(.008,.004)(.004,0)(0,-.002)(-.005,.001)(-.008,.006)(-.005,.01)}
\lay{m85}{(0,.011)(.005,.008)(.006,.003)(0,0)(-.005,.003)(-.004,.008)}
\lay{m95}{(0,.008)(.003,.006)(.003,.003)(0,.001)(-.003,.004)}
\end{axis}

% ---------- text, strips and frames in image pixels
\begin{scope}[x=0.4pt,y=-0.4pt]
\foreach \t/\px/\py in {A/19/17,B/589/17,C/19/798,D/1066/798,E/1066/1250}
  \node[font=\bfseries\fontsize{15}{16}\selectfont] at (\px,\py) {\t};
\stripbox{77}{55}{276}{100}{H3K36me2}{10}
\stripbox{333}{55}{532}{100}{H3K27me3}{10}
\node[rotate=90,font=\fontsize{12}{14}\selectfont] at (15,353) {\% of peptides with modification};
% B frame labels
\draw[line width=.8pt] (637,57) -- (642,57) -- (642,239) -- (637,239);
\draw[line width=.8pt] (637,256) -- (642,256) -- (642,437) -- (637,437);
\draw[line width=.8pt] (637,452) -- (642,452) -- (642,633) -- (637,633);
\foreach \l/\yy in {+0.7/67,-0.7/232,+0.4/263,-0.4/431,+0.2/461,-0.2/627}
  \node[anchor=east,inner sep=0pt] at (633,\yy) {\l};
\node at (1859,26) {Mbp};
\node at (1255,736) {Chromosome 5};
\draw[line width=.6pt] (1871,59) -- (1871,239);
\draw[line width=.6pt] (1871,257) -- (1871,436);
\draw[line width=.6pt] (1871,453) -- (1871,633);
\draw[line width=.6pt] (1871,646) -- (1871,705);
\draw[line width=.6pt] (1920,59) -- (1920,633);
\node[rotate=-90] at (1889,150) {H3K36me2};
\node[rotate=-90] at (1889,347) {H3K27me3};
\node[rotate=-90] at (1889,543) {DNAme};
\node[rotate=-90] at (1889,676) {Gene};
\node[rotate=-90] at (1937,347) {KO – WT};
% C titles
\foreach \t/\xx in {Cal27/143,Cal27-KO/287,Det562/431,Det562-KO/576,FaDu/725,FaDu-KO/870}
  \node at (\xx,820) {\t};
\foreach \xx in {143,287,431,576,725,870}
  \node[font=\fontsize{8.6}{10}\selectfont] at (\xx,1569) {IGR};
% D
\stripbox{1159}{791}{1400}{837}{Cal27}{10}
\stripbox{1416}{791}{1657}{837}{Det562}{10}
\stripbox{1673}{791}{1914}{837}{FaDu}{10}
\node[rotate=90,align=center,font=\fontsize{12}{13.5}\selectfont] at (1070,963) {ΔDNAme\%\\(KO - WT)};
% E
\stripbox{1162}{1243}{1353}{1289}{H3K36me2}{9.6}
\stripbox{1419}{1243}{1610}{1289}{H3K27me3}{9.6}
\stripbox{1722}{1243}{1914}{1289}{DNAme}{9.6}
\draw[black!45,line width=.5pt] (1162,1289) -- (1353,1289) (1419,1289) -- (1610,1289) (1722,1289) -- (1914,1289);
\node[white,anchor=west,inner sep=0pt,font=\fontsize{12}{14}\selectfont] at (1172,1317) {ρ = 0.82};
\node[white,anchor=west,inner sep=0pt,font=\fontsize{12}{14}\selectfont] at (1429,1317) {ρ = 0.72};
\node[white,anchor=west,inner sep=0pt,font=\fontsize{12}{14}\selectfont] at (1732,1317) {ρ = 0.5};
\node[rotate=90,font=\fontsize{12}{14}\selectfont] at (1103,1404) {KO - WT};
\node[font=\fontsize{12}{14}\selectfont] at (1514,1579) {MT - WT};
\end{scope}
\end{tikzpicture}
\end{document}
